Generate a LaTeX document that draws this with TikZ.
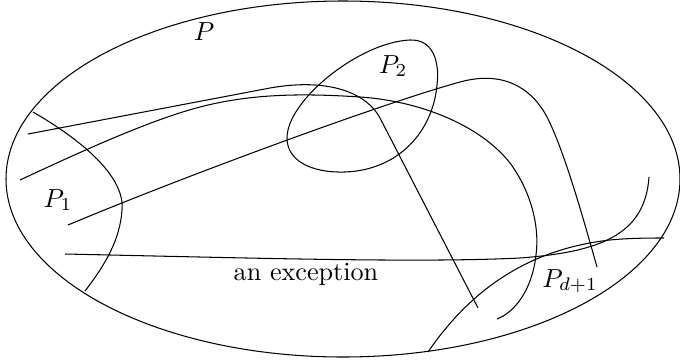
\documentclass[tikz,border=0pt]{standalone}
\usepackage{amsmath,amssymb}
\usepackage{tikz}
\usetikzlibrary{calc}

\begin{document}
\begin{tikzpicture}[
    x=0.01344cm, y=-0.01344cm,
    curve/.style = {draw=black, line width=0.4pt},
    lbl/.style   = {inner sep=0pt, anchor=base},
]
\useasboundingbox (0,0) rectangle (680,362);

%======== outer region P ========
\draw[curve] (343,179) ellipse [x radius=337, y radius=178];
\node[lbl] (labP) at (204,40) {$P$};

%======== piece P_1 on the left ========
\draw[curve] (33,112) .. controls (90,145) and (125,180) .. (122,210)
                      .. controls (120,240) and (105,265) .. (85,291);
\node[lbl] (labPone) at (58,207) {$P_1$};

%======== piece P_2, closed loop ========
\draw[curve] (287,138) .. controls (287,100) and (360,42) .. (410,40)
                       .. controls (432,39) and (440,60) .. (437,85)
                       .. controls (433,130) and (400,170) .. (345,172)
                       .. controls (310,173) and (287,160) .. cycle;
\node[lbl] (labPtwo) at (393,73) {$P_2$};

%======== piece P_{d+1} at the bottom right ========
\draw[curve] (428,352) .. controls (465,298) and (520,250) .. (610,240)
                       .. controls (630,238) and (650,238) .. (664,238);
\node[lbl] (labPd) at (570,287) {$P_{d+1}$};

%======== the curves crossing P ========
% --- top line, bending down
\draw[curve] (28,134) -- (270,88) .. controls (332,77) and (368,95) .. (380,118) -- (478,308);

% --- long arc
\draw[curve] (20,180) .. controls (80,152) and (150,120) .. (200,107)
                      .. controls (250,94) and (300,93) .. (360,97)
                      .. controls (420,101) and (480,125) .. (510,163)
                      .. controls (530,190) and (540,225) .. (536,255)
                      .. controls (532,290) and (515,312) .. (497,319);

% --- line through P_1 and P_2
\draw[curve] (68,225) .. controls (180,178) and (380,104) .. (460,82)
                      .. controls (500,71) and (530,85) .. (547,117)
                      .. controls (565,152) and (585,225) .. (597,267);

% --- the exception
\draw[curve] (65,254) .. controls (250,258) and (420,263) .. (520,258)
                      .. controls (600,252) and (645,235) .. (649,177);
\node[lbl] (labExc) at (306,280) {an exception};

\end{tikzpicture}
\end{document}
